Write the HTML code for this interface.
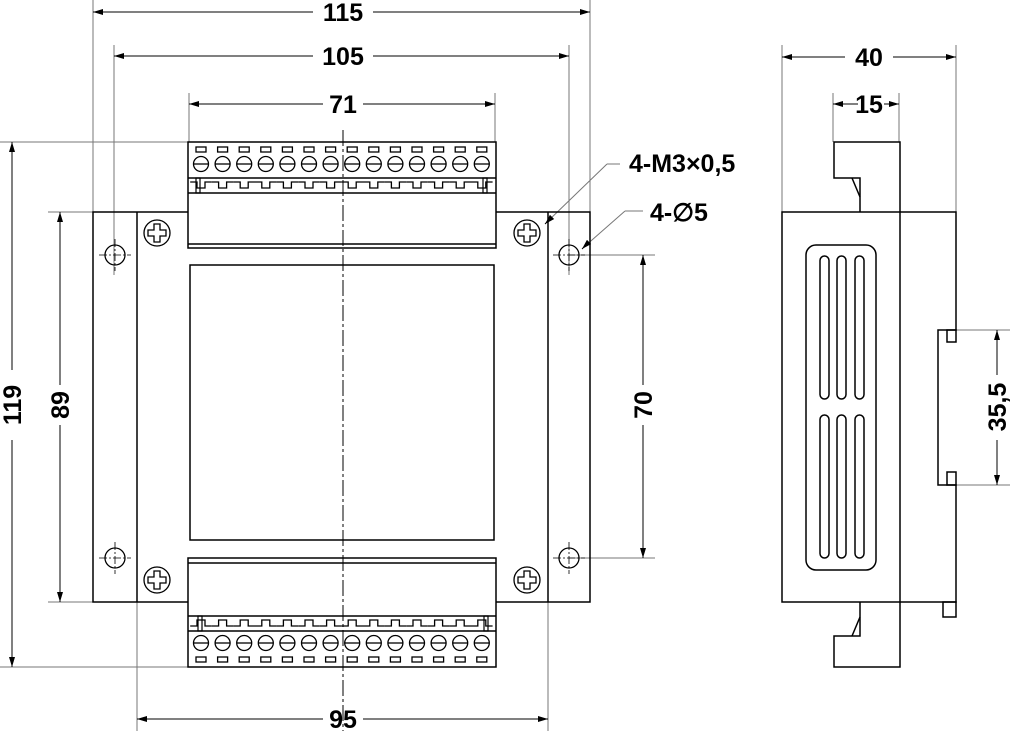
<!DOCTYPE html>
<html><head><meta charset="utf-8"><style>
html,body{margin:0;padding:0;background:#fff;width:1010px;height:731px;overflow:hidden}
svg{display:block}
text{font-family:"Liberation Sans Narrow","Liberation Sans",sans-serif;font-size:25px;font-weight:bold;fill:#000}
</style></head><body>
<svg width="1010" height="731" viewBox="0 0 1010 731" xmlns="http://www.w3.org/2000/svg">
<defs>
<marker id="a" viewBox="0 0 10 6" refX="10" refY="3" markerWidth="10" markerHeight="6" markerUnits="userSpaceOnUse" orient="auto-start-reverse"><path d="M0,0L10,3L0,6z" fill="#000"/></marker>
<g id="tt" fill="none" stroke="#000" stroke-width="1.3">
<rect x="-5" y="147" width="10" height="5"/>
<circle cx="0" cy="164" r="7.5"/><line x1="-7.5" y1="164" x2="7.5" y2="164"/>
<polyline points="-10.8,182 -4,182 -4,188 4,188 4,182 10.8,182"/>
</g>
<g id="tb" fill="none" stroke="#000" stroke-width="1.3">
<rect x="-5" y="657" width="10" height="5"/>
<circle cx="0" cy="643" r="7.5"/><line x1="-7.5" y1="643" x2="7.5" y2="643"/>
<polyline points="-10.8,626 -4,626 -4,620 4,620 4,626 10.8,626"/>
</g>
<g id="hole" fill="none" stroke="#000">
<circle r="10" stroke-width="1.3"/><line x1="-16" x2="16" stroke-width="0.8" stroke-dasharray="8,2,2,2"/><line y1="-16" y2="16" stroke-width="0.8" stroke-dasharray="8,2,2,2"/>
</g>
<g id="scr" fill="none" stroke="#000" stroke-width="1.3">
<circle r="13"/><path d="M-3,-9H3V-3H9V3H3V9H-3V3H-9V-3H-3Z"/>
</g>
</defs>

<g stroke="#777" stroke-width="1" fill="none">
<line x1="93" y1="0" x2="93" y2="212"/><line x1="590" y1="0" x2="590" y2="212"/>
<line x1="114" y1="45" x2="114" y2="275"/><line x1="569" y1="45" x2="569" y2="275"/>
<line x1="189" y1="93" x2="189" y2="142"/><line x1="495" y1="93" x2="495" y2="142"/>
<line x1="0" y1="142" x2="188" y2="142"/><line x1="0" y1="667" x2="188" y2="667"/>
<line x1="48" y1="212" x2="93" y2="212"/><line x1="48" y1="602" x2="93" y2="602"/>
<line x1="569" y1="255" x2="655" y2="255"/><line x1="569" y1="558" x2="655" y2="558"/>
<line x1="137" y1="602" x2="137" y2="731"/><line x1="548" y1="602" x2="548" y2="731"/>
<line x1="782" y1="45" x2="782" y2="212"/><line x1="956" y1="45" x2="956" y2="212"/>
<line x1="833" y1="93" x2="833" y2="142"/><line x1="899" y1="93" x2="899" y2="142"/>
<line x1="956" y1="330" x2="1010" y2="330"/><line x1="956" y1="485" x2="1010" y2="485"/>
<line x1="620" y1="164" x2="607" y2="164"/><line x1="607" y1="164" x2="547" y2="222"/>
<line x1="643" y1="211" x2="625" y2="211"/><line x1="625" y1="211" x2="584" y2="247"/>
</g>
<g stroke="#000" stroke-width="1" fill="none" marker-start="url(#a)" marker-end="url(#a)">
<line x1="93" y1="12" x2="313" y2="12" marker-end="none"/><line x1="373" y1="12" x2="590" y2="12" marker-start="none"/>
<line x1="114" y1="56" x2="313" y2="56" marker-end="none"/><line x1="373" y1="56" x2="569" y2="56" marker-start="none"/>
<line x1="189" y1="104" x2="323" y2="104" marker-end="none"/><line x1="363" y1="104" x2="495" y2="104" marker-start="none"/>
<line x1="137" y1="719" x2="323" y2="719" marker-end="none"/><line x1="363" y1="719" x2="548" y2="719" marker-start="none"/>
<line x1="12" y1="142" x2="12" y2="370" marker-end="none"/><line x1="12" y1="440" x2="12" y2="667" marker-start="none"/>
<line x1="60" y1="212" x2="60" y2="385" marker-end="none"/><line x1="60" y1="425" x2="60" y2="602" marker-start="none"/>
<line x1="643" y1="255" x2="643" y2="385" marker-end="none"/><line x1="643" y1="425" x2="643" y2="558" marker-start="none"/>
<line x1="782" y1="57" x2="845" y2="57" marker-end="none"/><line x1="893" y1="57" x2="956" y2="57" marker-start="none"/>
<line x1="997" y1="330" x2="997" y2="375" marker-end="none"/><line x1="997" y1="440" x2="997" y2="485" marker-start="none"/>
</g>
<g stroke="#000" stroke-width="1" fill="none">
<line x1="833" y1="104" x2="853" y2="104" marker-start="url(#a)"/><line x1="853" y1="104" x2="858" y2="104"/>
<line x1="884" y1="104" x2="899" y2="104" marker-end="url(#a)"/>
<line x1="547" y1="222" x2="545" y2="224" marker-end="url(#a)"/>
<line x1="584" y1="247" x2="582" y2="249" marker-end="url(#a)"/>
</g>
<text x="343" y="21" text-anchor="middle">115</text>
<text x="343" y="65" text-anchor="middle">105</text>
<text x="343" y="113" text-anchor="middle">71</text>
<text x="343" y="728" text-anchor="middle">95</text>
<text x="869" y="66" text-anchor="middle">40</text>
<text x="869" y="113" text-anchor="middle">15</text>
<text transform="translate(21,405) rotate(-90)" text-anchor="middle">119</text>
<text transform="translate(69,405) rotate(-90)" text-anchor="middle">89</text>
<text transform="translate(652,405) rotate(-90)" text-anchor="middle">70</text>
<text transform="translate(1006,407) rotate(-90)" text-anchor="middle">35,5</text>
<text x="629" y="172">4-M3×0,5</text>
<text x="650" y="221">4-∅5</text>

<g stroke="#000" stroke-width="1.5" fill="none">
<rect x="93" y="212" width="497" height="390"/>
<line x1="137" y1="212" x2="137" y2="602"/><line x1="548" y1="212" x2="548" y2="602"/>
<rect x="188" y="142" width="308" height="106" fill="#fff"/>
<line x1="188" y1="178" x2="496" y2="178"/><line x1="188" y1="193" x2="496" y2="193"/>
<line x1="188" y1="244" x2="496" y2="244"/>
<rect x="190" y="265" width="304" height="275"/>
<rect x="188" y="558" width="308" height="109" fill="#fff"/>
<line x1="188" y1="563" x2="496" y2="563"/>
<line x1="188" y1="616" x2="496" y2="616"/><line x1="188" y1="631" x2="496" y2="631"/>
<rect x="196" y="178" width="4" height="15" stroke-width="1.2"/><rect x="483" y="178" width="4" height="15" stroke-width="1.2"/>
<rect x="198" y="616" width="4" height="15" stroke-width="1.2"/><rect x="484" y="616" width="4" height="15" stroke-width="1.2"/>
</g>
<g>
<use href="#tt" x="201"/><use href="#tt" x="222.6"/><use href="#tt" x="244.2"/><use href="#tt" x="265.8"/><use href="#tt" x="287.4"/><use href="#tt" x="309"/><use href="#tt" x="330.6"/><use href="#tt" x="352.2"/><use href="#tt" x="373.8"/><use href="#tt" x="395.4"/><use href="#tt" x="417"/><use href="#tt" x="438.6"/><use href="#tt" x="460.2"/><use href="#tt" x="481.8"/>
<use href="#tb" x="201"/><use href="#tb" x="222.6"/><use href="#tb" x="244.2"/><use href="#tb" x="265.8"/><use href="#tb" x="287.4"/><use href="#tb" x="309"/><use href="#tb" x="330.6"/><use href="#tb" x="352.2"/><use href="#tb" x="373.8"/><use href="#tb" x="395.4"/><use href="#tb" x="417"/><use href="#tb" x="438.6"/><use href="#tb" x="460.2"/><use href="#tb" x="481.8"/>
<use href="#hole" x="115" y="255"/><use href="#hole" x="115" y="558"/><use href="#hole" x="569" y="255"/><use href="#hole" x="569" y="558"/>
<use href="#scr" x="157" y="233"/><use href="#scr" x="157" y="580"/><use href="#scr" x="527" y="233"/><use href="#scr" x="527" y="580"/>
</g>
<line x1="343" y1="130" x2="343" y2="731" stroke="#000" stroke-width="1" stroke-dasharray="16,3,3,3"/>

<g stroke="#000" stroke-width="1.5" fill="none">
<rect x="782" y="212" width="118" height="390"/>
<path d="M900,212H956V330H938V485H956V602H900"/>
<rect x="947" y="330" width="9" height="12"/><rect x="947" y="472" width="9" height="13"/>
<rect x="943" y="602" width="13" height="15"/>
<path d="M860,212V178H834V142H900V212"/><path d="M852,178L860,197"/>
<path d="M860,602V636H834V667H900V602"/><path d="M852,636L860,617"/>
<rect x="806" y="245" width="70" height="325" rx="10"/>
<rect x="820" y="256" width="9" height="143" rx="4.5"/><rect x="837" y="256" width="9" height="143" rx="4.5"/><rect x="855" y="256" width="9" height="143" rx="4.5"/>
<rect x="820" y="415" width="9" height="143" rx="4.5"/><rect x="837" y="415" width="9" height="143" rx="4.5"/><rect x="855" y="415" width="9" height="143" rx="4.5"/>
</g>
</svg>
</body></html>
